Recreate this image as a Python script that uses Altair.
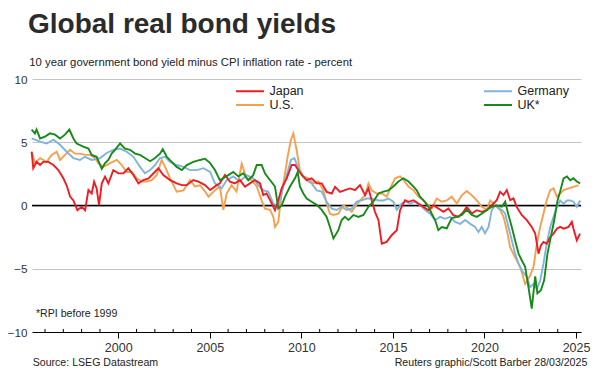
import altair as alt
import pandas as pd

FONT = "Liberation Sans, Arial, Helvetica, sans-serif"

series_names = ["Japan", "U.S.", "Germany", "UK*"]
series_colors = ["#ee1c24", "#f4a04e", "#80b4d8", "#178a1a"]

jp_years = [1995.27,1995.36,1995.54,1995.73,1995.91,1996.18,1996.46,1996.73,1997.0,1997.18,1997.37,1997.55,1997.77,1998.0,1998.19,1998.37,1998.55,1998.68,1998.82,1998.95,1999.10,1999.28,1999.46,1999.73,2000.01,2000.28,2000.55,2000.83,2001.10,2001.37,2001.65,2002.01,2002.19,2002.46,2002.83,2003.19,2003.47,2003.74,2004.10,2004.38,2004.74,2005.02,2005.38,
            2005.55,2005.83,2006.10,2006.37,2006.65,2006.92,2007.19,2007.47,2007.74,2007.92,2008.10,2008.29,2008.56,2008.74,2008.92,2009.20,2009.47,2009.65,2009.83,2010.02,2010.29,2010.56,2010.84,2011.11,2011.38,2011.66,2011.84,2012.11,2012.38,2012.66,2012.93,2013.20,2013.48,2013.66,2013.84,2014.02,2014.21,2014.39,2014.66,2014.93,2015.21,2015.39,2015.66,
            2015.85,2016.12,2016.39,2016.67,2016.94,2017.21,2017.48,2017.76,2018.03,2018.30,2018.58,2018.85,2019.03,2019.31,2019.58,2019.85,2020.13,2020.40,2020.67,2020.85,2021.04,2021.22,2021.40,2021.58,2021.76,2022.04,2022.31,2022.58,2022.77,2022.95,2023.08,2023.22,2023.40,2023.59,2023.77,2023.95,2024.13,2024.32,2024.59,2024.77,2024.86,2025.04,2025.22]
jp_vals = [4.25,2.95,3.45,3.2,3.45,3.45,3.2,2.8,2.15,1.6,0.7,0.4,-0.37,-0.1,-0.37,1.22,0.95,1.88,1.35,0.03,1.75,2.28,1.75,2.8,2.54,2.54,2.94,2.41,1.75,2.01,2.14,2.67,2.94,2.41,2.01,1.75,1.61,1.61,2.01,1.88,1.61,1.22,1.61,
           1.75,2.41,1.88,1.75,2.01,1.48,1.75,2.01,1.75,0.82,0.95,0.42,-0.37,0.42,1.35,2.14,3.2,3.2,2.8,2.41,2.01,2.14,1.75,1.75,1.08,0.95,1.48,1.08,1.22,1.35,1.22,1.61,0.82,1.35,0.42,-0.5,-1.16,-3.02,-2.88,-2.35,-1.96,-0.37,0.42,
           0.29,0.42,0.16,-0.11,-0.37,0.03,-0.24,-0.5,-0.24,-0.77,-0.9,-0.5,-0.11,-0.63,-0.37,-0.5,-0.37,0.03,0.42,1.08,0.82,1.22,0.42,0.56,-0.11,-0.77,-1.16,-1.69,-2.22,-3.81,-3.15,-2.88,-3.02,-2.49,-2.22,-1.83,-1.69,-1.83,-1.69,-1.3,-1.83,-2.75,-2.22]

de_years = [1995.27,1995.73,1996.09,1996.46,1996.82,1997.18,1997.55,1997.91,1998.18,1998.55,1999.01,1999.37,1999.73,2000.10,2000.46,2000.83,2001.19,2001.46,2001.74,2002.01,2002.28,2002.56,2002.83,2003.19,2003.56,2003.92,2004.29,2004.65,2005.02,
            2005.28,2005.64,2005.92,2006.28,2006.65,2007.01,2007.37,2007.65,2007.92,2008.19,2008.47,2008.74,2009.01,2009.20,2009.43,2009.62,2009.83,2010.02,2010.29,2010.56,2010.84,2011.11,2011.38,2011.66,2011.93,2012.20,2012.47,2012.75,2013.02,2013.29,2013.57,2013.84,2014.21,2014.48,2014.75,2015.02,2015.21,2015.48,
            2015.66,2015.94,2016.21,2016.48,2016.76,2017.03,2017.30,2017.58,2017.85,2018.12,2018.40,2018.67,2018.94,2019.22,2019.49,2019.67,2019.85,2020.03,2020.22,2020.40,2020.58,2020.76,2020.95,2021.13,2021.31,2021.49,2021.67,2021.86,2022.04,2022.31,2022.49,2022.68,2022.86,2023.04,2023.22,2023.40,2023.59,2023.77,2023.95,2024.13,2024.32,2024.50,2024.68,2024.86,2025.04,2025.22]
de_vals = [5.3,5.05,4.9,5.2,4.8,4.25,3.75,3.6,3.85,3.6,3.75,4.15,4.4,4.5,4.25,3.85,3.05,2.55,2.8,3.2,3.75,3.85,3.45,3.2,3.05,2.8,2.8,2.95,2.65,
           1.75,1.35,2.0,2.3,1.9,2.4,2.15,1.6,1.2,1.1,0.15,-0.1,1.5,2.4,3.6,3.75,2.95,2.4,2.0,1.75,1.2,1.1,0.3,-0.25,-0.35,-0.1,-0.35,-0.25,0.3,0.4,0.55,0.55,0.4,0.4,0.55,0.3,-0.35,0.15,
           0.3,0.15,0.3,0.03,-0.35,-0.65,-1.15,-0.9,-1.05,-0.9,-1.3,-1.45,-1.15,-1.45,-1.7,-2.1,-1.7,-2.2,-1.7,-0.35,0.03,-0.25,-0.35,-0.65,-1.7,-2.75,-3.8,-4.6,-5.15,-5.65,-6.45,-6.2,-6.6,-5.95,-4.6,-3.0,-1.7,-0.9,-0.1,0.4,0.15,0.4,0.4,0.3,-0.1,0.4]

us_years = [1995.27,1995.45,1995.73,1996.09,1996.36,1996.64,1996.82,1997.09,1997.37,1997.64,1997.91,1998.19,1998.46,1998.73,1998.91,1999.19,1999.55,1999.92,2000.19,2000.46,2000.74,2001.01,2001.28,2001.56,2001.83,2002.10,2002.37,2002.56,2002.83,2003.19,2003.56,2003.92,2004.19,2004.47,2004.74,2004.93,2005.20,
            2005.55,2005.74,2005.92,2006.19,2006.46,2006.74,2007.01,2007.28,2007.56,2007.83,2008.01,2008.29,2008.47,2008.56,2008.74,2008.92,2009.11,2009.25,2009.43,2009.56,2009.74,2009.92,2010.11,2010.38,2010.65,2010.93,2011.20,2011.38,2011.56,2011.75,2012.02,2012.29,2012.57,2012.75,2012.93,2013.20,2013.48,2013.66,2013.84,2014.11,2014.39,2014.66,2014.93,2015.12,2015.39,
            2015.57,2015.85,2016.12,2016.39,2016.67,2016.94,2017.12,2017.39,2017.67,2017.94,2018.21,2018.49,2018.76,2019.03,2019.31,2019.58,2019.85,2020.13,2020.31,2020.49,2020.76,2021.04,2021.22,2021.40,2021.67,2021.95,2022.22,2022.49,2022.68,2022.86,2023.04,2023.22,2023.40,2023.59,2023.77,2023.95,2024.13,2024.32,2024.59,2024.86,2025.13]
us_vals = [4.25,3.35,3.75,3.45,4.0,4.25,3.6,4.0,4.4,4.1,4.1,4.0,4.0,3.75,3.35,3.05,3.35,3.6,3.2,2.65,2.65,2.15,1.9,1.9,2.0,2.4,3.6,3.05,2.15,1.1,1.2,2.0,1.5,1.6,1.1,0.7,1.1,
           1.5,-0.35,0.95,1.6,1.1,3.3,2.15,2.0,1.5,0.4,-0.25,-0.35,-0.9,-1.7,-1.3,0.95,2.55,3.86,5.2,5.7,4.4,2.8,2.3,2.15,1.75,1.9,1.2,0.15,-0.65,-0.75,-0.65,0.03,-0.25,-0.5,-0.1,0.4,0.8,1.75,1.2,0.95,0.95,0.7,1.6,2.15,2.3,
           2.05,1.5,1.2,0.7,0.4,0.03,-0.25,0.55,0.3,0.4,0.7,0.15,0.8,1.15,0.8,0.4,-0.1,-0.35,0.4,0.15,-0.1,-0.9,-1.95,-3.3,-4.1,-4.85,-6.2,-5.55,-4.85,-3.0,-1.7,-0.65,0.42,1.22,1.35,0.7,0.95,1.22,1.35,1.48,1.61]

uk_years = [1995.27,1995.45,1995.54,1995.73,1996.0,1996.27,1996.55,1996.82,1997.09,1997.33,1997.55,1997.73,1998.09,1998.37,1998.55,1998.82,1999.10,1999.28,1999.46,1999.64,1999.82,2000.10,2000.37,2000.64,2000.92,2001.19,2001.46,2001.74,2002.01,2002.28,2002.43,2002.65,2002.92,2003.19,2003.47,2003.74,2004.10,2004.47,2004.74,2005.02,
            2005.28,2005.55,2005.74,2006.01,2006.28,2006.56,2006.83,2007.10,2007.37,2007.56,2007.83,2008.01,2008.29,2008.56,2008.74,2008.92,2009.11,2009.38,2009.65,2009.80,2009.92,2010.11,2010.29,2010.56,2010.84,2011.11,2011.38,2011.56,2011.75,2012.02,2012.20,2012.38,2012.57,2012.84,2013.11,2013.39,2013.66,2013.93,2014.21,2014.48,2014.75,2015.02,2015.30,
            2015.57,2015.85,2016.12,2016.30,2016.48,2016.67,2016.94,2017.12,2017.30,2017.48,2017.67,2017.94,2018.21,2018.49,2018.76,2019.03,2019.31,2019.58,2019.85,2020.13,2020.40,2020.67,2020.95,2021.13,2021.31,2021.49,2021.67,2021.86,2022.04,2022.22,2022.40,2022.58,2022.77,2022.89,2023.08,2023.26,2023.44,2023.62,2023.81,2023.99,2024.13,2024.32,2024.50,2024.68,2024.86,2025.04,2025.22]
uk_vals = [6.0,5.7,6.0,5.3,5.45,5.7,5.6,5.3,5.6,6.0,5.3,4.9,4.65,4.5,4.0,3.85,2.9,3.35,3.6,4.1,4.4,4.9,4.5,4.4,4.1,4.0,3.75,3.5,3.75,4.1,4.45,3.85,3.45,3.05,2.8,3.2,3.45,3.6,3.7,3.35,
           2.8,2.0,2.15,2.4,2.65,2.3,2.55,2.0,2.4,3.2,3.2,2.55,2.0,1.5,-0.25,0.0,0.7,1.5,2.15,2.65,1.5,0.95,0.55,0.3,0.05,-0.35,-0.9,-1.7,-2.6,-1.95,-1.15,-0.9,-1.15,-0.75,-0.9,-0.75,-0.1,0.3,0.95,1.1,1.2,1.5,1.9,
           2.15,1.9,1.5,1.2,0.7,0.4,-0.1,-0.65,-1.15,-1.95,-1.7,-1.8,-1.0,-0.9,-0.75,-0.35,-0.75,-0.9,-0.65,-0.35,-0.1,0.0,-0.1,0.3,-0.75,-1.7,-2.75,-3.8,-4.35,-4.85,-6.45,-8.15,-5.6,-6.95,-6.7,-5.9,-3.8,-2.5,-1.15,0.4,1.1,2.15,2.3,2.0,2.15,1.9,1.75]

major_years = [2000, 2005, 2010, 2015, 2020, 2025]
minor_years = [y for y in range(1996, 2025) if y % 5 != 0]
y_ticks = [-10, -5, 0, 5, 10]

frames = []
for name, ys, vs in [("U.S.", us_years, us_vals), ("Germany", de_years, de_vals),
                     ("Japan", jp_years, jp_vals), ("UK*", uk_years, uk_vals)]:
    assert len(ys) == len(vs), name
    frames.append(pd.DataFrame({"year": ys, "value": vs, "series": name}))
df = pd.concat(frames, ignore_index=True)

x_scale = alt.Scale(domain=[1995.29, 2025.27], nice=False, zero=False)
y_scale = alt.Scale(domain=[-10, 10], nice=False, zero=False)
color_scale = alt.Scale(domain=series_names, range=series_colors)

legend = alt.Legend(
    orient="none", legendX=211, legendY=5, columns=2, columnPadding=176,
    rowPadding=0, symbolType="M-2.333,0H2.333", symbolSize=144,
    symbolStrokeWidth=2, labelOffset=12.5, labelFontSize=12.5, labelFont=FONT,
    labelColor="#222222", title=None, padding=0,
)

x_axis = alt.Axis(values=major_years, format="d", title=None, grid=False,
                  domainColor="black", domainWidth=1, tickColor="black",
                  tickSize=6, labelFontSize=12.5, labelPadding=3,
                  labelColor="#333333", labelFont=FONT)
y_axis = alt.Axis(values=y_ticks, title=None, grid=True, gridColor="#c4c4c4",
                  gridWidth=1, domain=False, ticks=False, tickSize=0,
                  labelPadding=5, labelFontSize=11.7, labelColor="#333333",
                  labelFont=FONT)

layers = []
zero = alt.Chart(pd.DataFrame({"v": [0]})).mark_rule(color="black", strokeWidth=1.3).encode(
    y=alt.Y("v:Q", scale=y_scale, axis=y_axis))
layers.append(zero)

minor = alt.Chart(pd.DataFrame({"year": minor_years, "lo": -10, "hi": -9.76})).mark_rule(
    color="black", strokeWidth=1).encode(
    x=alt.X("year:Q", scale=x_scale, axis=x_axis),
    y=alt.Y("lo:Q", scale=y_scale, axis=y_axis), y2="hi:Q")
layers.append(minor)

for name in ["U.S.", "Germany", "Japan", "UK*"]:
    ln = alt.Chart(df).transform_filter(alt.datum.series == name).mark_line(
        strokeWidth=1.9).encode(
        x=alt.X("year:Q", scale=x_scale, axis=x_axis),
        y=alt.Y("value:Q", scale=y_scale, axis=y_axis),
        color=alt.Color("series:N", scale=color_scale, legend=legend),
    )
    layers.append(ln)


def label(text, x, y, size, weight="normal", align="left", color="#222222"):
    return alt.Chart(pd.DataFrame({"t": [text]})).mark_text(
        align=align, baseline="alphabetic", fontSize=size, fontWeight=weight,
        font=FONT, color=color).encode(x=alt.value(x), y=alt.value(y), text="t:N")


layers.append(label("Global real bond yields", -4, -46, 28, weight="bold", color="#2b2b2b"))
layers.append(label("10 year government bond yield minus CPI inflation rate - percent", -2.7, -13, 11.3))
layers.append(label("*RPI before 1999", 4, 238, 10.6))
layers.append(label("Source: LSEG Datastream", 0.7, 287, 10.6))
layers.append(label("Reuters graphic/Scott Barber 28/03/2025", 555.3, 287, 10.6, align="right"))

chart = alt.layer(*layers).properties(
    width=549, height=253,
    autosize=alt.AutoSizeParams(type="none"),
    padding={"left": 24, "top": 71, "right": 11, "bottom": 36},
).configure(background="white").configure_view(stroke=None)

chart.save("out.html", embed_options={"renderer": "svg", "actions": False})
